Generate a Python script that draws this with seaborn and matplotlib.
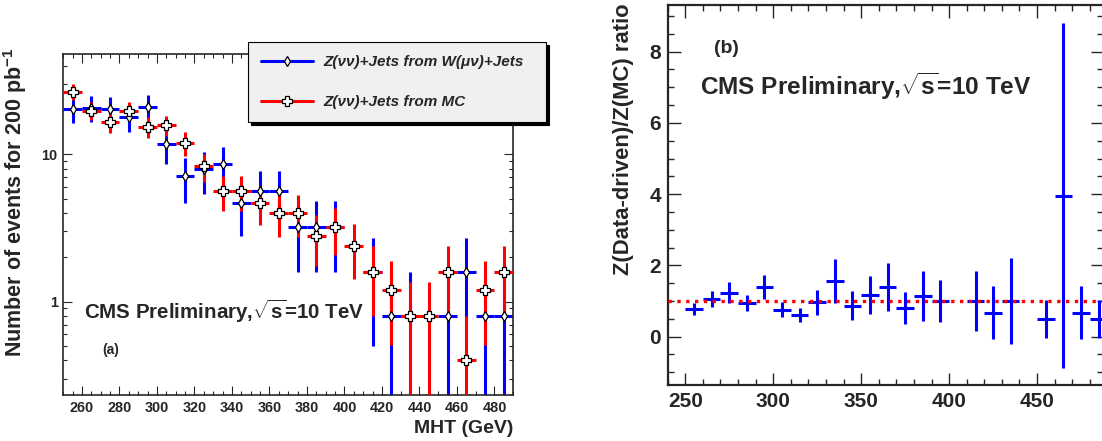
import numpy as np
import pandas as pd
import matplotlib
matplotlib.use("Agg")
import matplotlib.pyplot as plt
from matplotlib.lines import Line2D
from matplotlib.ticker import MultipleLocator, LogLocator, FuncFormatter, NullFormatter
import seaborn as sns

# MHT bin centres (GeV), 10 GeV wide bins
mht = [255, 265, 275, 285, 295, 305, 315, 325, 335, 345, 355, 365,
       375, 385, 395, 405, 415, 425, 435, 445, 455, 465, 475, 485]

# Z(nunu)+jets estimated from W(munu)+jets
w_est = [20.4, 20.6, 20.4, 18.0, 21.1, 11.7, 7.1, 7.9, 8.6, 4.7, 5.6, 5.6,
         3.2, 3.2, 3.2, np.nan, 1.6, 0.8, 0.8, np.nan, 0.8, 1.6, 0.8, 0.8]
w_err = [4.0, 4.1, 4.0, 3.8, 4.1, 3.1, 2.4, 2.5, 2.6, 1.9, 2.1, 2.1,
         1.6, 1.6, 1.6, np.nan, 1.1, 0.8, 0.8, np.nan, 0.8, 1.1, 0.8, 0.8]

# Z(nunu)+jets from MC
mc = [26.6, 19.8, 16.6, 19.7, 15.4, 15.8, 11.9, 8.3, 5.6, 5.6, 4.7, 4.0,
      4.0, 2.8, 3.2, 2.4, 1.6, 1.2, 0.8, 0.8, 1.6, 0.4, 1.2, 1.6]
mc_err = [3.3, 2.8, 2.6, 2.8, 2.5, 2.5, 2.2, 1.8, 1.5, 1.5, 1.4, 1.26,
          1.26, 1.06, 1.13, 0.98, 0.8, 0.69, 0.57, 0.57, 0.8, 0.4, 0.69, 0.8]

# ratio data-driven / MC
ratio_mht = [255, 265, 275, 285, 295, 305, 315, 325, 335, 345, 355, 365,
             375, 385, 395, 415, 425, 435, 455, 465, 475, 485]
ratio = [0.78, 1.06, 1.24, 0.94, 1.39, 0.75, 0.61, 0.96, 1.56, 0.87, 1.17, 1.40,
         0.80, 1.14, 1.0, 1.0, 0.67, 1.0, 0.50, 3.96, 0.67, 0.50]
ratio_err = [0.17, 0.23, 0.30, 0.22, 0.33, 0.21, 0.20, 0.34, 0.61, 0.41, 0.54, 0.68,
             0.45, 0.69, 0.60, 0.83, 0.74, 1.20, 0.54, 4.84, 0.74, 0.54]

df = pd.DataFrame({"mht": mht, "w_est": w_est, "mc": mc})

sns.set_style("ticks")
plt.rcParams["font.family"] = ["Liberation Sans", "DejaVu Sans"]
plt.rcParams["font.weight"] = "bold"
plt.rcParams["axes.labelweight"] = "bold"
plt.rcParams["mathtext.fontset"] = "custom"
plt.rcParams["mathtext.rm"] = "Liberation Sans:bold"
plt.rcParams["mathtext.bf"] = "Liberation Sans:bold"
plt.rcParams["mathtext.it"] = "Liberation Sans:bold:italic"
plt.rcParams["mathtext.sf"] = "Liberation Sans:bold"

fig = plt.figure(figsize=(11.02, 4.41), dpi=100)

# ---- (a) event counts ----
ax1 = fig.add_axes([0.0574, 0.1043, 0.4083, 0.7732])
ax1.errorbar(mht, w_est, yerr=w_err, xerr=5, fmt="none", ecolor="blue",
             elinewidth=2.2, zorder=2)
ax1.errorbar(mht, mc, yerr=mc_err, xerr=5, fmt="none", ecolor="red",
             elinewidth=2.2, zorder=3)
sns.scatterplot(data=df, x="mht", y="w_est", marker="d", s=26, color="white",
                edgecolor="black", linewidth=0.9, ax=ax1, zorder=4)
sns.scatterplot(data=df, x="mht", y="mc", marker="P", s=55, color="white",
                edgecolor="black", linewidth=0.9, ax=ax1, zorder=5)

ax1.set_yscale("log")
ax1.set_xlim(250, 490)
ax1.set_ylim(0.233, 47.9)
ax1.xaxis.set_major_locator(MultipleLocator(20))
ax1.xaxis.set_minor_locator(MultipleLocator(5))
ax1.yaxis.set_major_locator(LogLocator(base=10))
ax1.yaxis.set_minor_locator(LogLocator(base=10, subs=range(2, 10)))
ax1.yaxis.set_major_formatter(FuncFormatter(lambda v, _: f"{v:g}"))
ax1.yaxis.set_minor_formatter(NullFormatter())
ax1.tick_params(which="both", direction="in", top=True, right=True,
                labelsize=10.4, width=0.8, pad=4)
ax1.tick_params(which="major", length=6.5)
ax1.tick_params(which="minor", length=3.2)
for s in ax1.spines.values():
    s.set_linewidth(1.2)
ax1.set_xlabel("MHT (GeV)", fontsize=14, loc="right")
ax1.xaxis.set_label_coords(1.0, -0.072)
ax1.set_ylabel("Number of events for 200 pb$^{-1}$", fontsize=15.5, loc="top")
ax1.yaxis.set_label_coords(-0.076, 1.018)
ax1.text(0.047, 0.244, r"CMS Preliminary,$\sqrt{\mathbf{s}}$=10 TeV",
         transform=ax1.transAxes, fontsize=14.8, va="center", ha="left")
ax1.text(0.086, 0.132, "(a)", transform=ax1.transAxes, fontsize=10,
         va="center", ha="left")

handles = [Line2D([], [], color="blue", lw=2.2, marker="d", ms=5,
                  mfc="white", mec="black", mew=0.9),
           Line2D([], [], color="red", lw=2.2, marker="P", ms=7,
                  mfc="white", mec="black", mew=0.9)]
labels = ["Z(νν)+Jets from W(μν)+Jets", "Z(νν)+Jets from MC"]
leg = fig.legend(handles, labels, loc="upper left",
                 bbox_to_anchor=(0.2248, 0.7166, 0.2707, 0.1874), mode="expand",
                 prop={"style": "italic", "weight": "bold", "size": 11},
                 frameon=True, fancybox=False,
                 shadow={"color": "black", "alpha": 1},
                 facecolor="#f0f0f0", edgecolor="black", framealpha=1,
                 borderpad=0.85, labelspacing=1.7, handlelength=3.4,
                 handletextpad=0.7, borderaxespad=0)
leg.get_frame().set_linewidth(0.8)

# ---- (b) ratio (panel runs off the right edge of the picture) ----
ax2 = fig.add_axes([0.6059, 0.127, 0.3952, 0.8617])
ax2.errorbar(ratio_mht, ratio, yerr=ratio_err, xerr=5, fmt="none",
             ecolor="blue", elinewidth=2.2, zorder=2)
ax2.axhline(1.0, color="red", ls=":", lw=2.4, zorder=3)
ax2.set_xlim(240, 487.6)
ax2.set_ylim(-1.356, 9.31)
ax2.xaxis.set_major_locator(MultipleLocator(50))
ax2.xaxis.set_minor_locator(MultipleLocator(10))
ax2.yaxis.set_major_locator(MultipleLocator(2))
ax2.yaxis.set_minor_locator(MultipleLocator(0.5))
ax2.tick_params(which="both", direction="in", top=True, right=True,
                labelsize=15, width=1.0, pad=5)
ax2.tick_params(which="major", length=9)
ax2.tick_params(which="minor", length=4.3)
for s in ax2.spines.values():
    s.set_linewidth(1.6)
ax2.spines["right"].set_visible(False)
ax2.set_ylabel("Z(Data-driven)/Z(MC) ratio", fontsize=15.8, loc="top")
ax2.yaxis.set_label_coords(-0.078, 1.005)
ax2.text(0.107, 0.886, "(b)", transform=ax2.transAxes, fontsize=14,
         va="center", ha="left")
ax2.text(0.0744, 0.787, r"CMS Preliminary,$\sqrt{\mathbf{s}}$=10 TeV",
         transform=ax2.transAxes, fontsize=17.6, va="center", ha="left")

fig.savefig("out.png", dpi=100)
